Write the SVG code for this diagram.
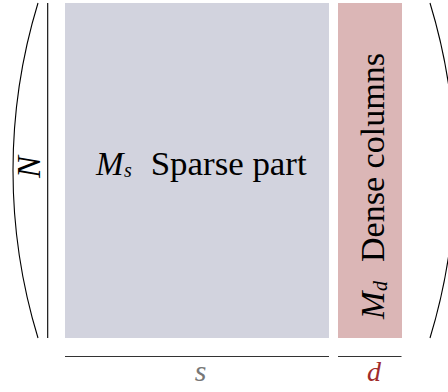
<svg xmlns="http://www.w3.org/2000/svg" width="448" height="392" viewBox="0 0 448 392">
<style>
text{font-family:'Liberation Serif','DejaVu Serif','Noto Serif','Nimbus Roman','FreeSerif',Georgia,'Times New Roman',serif}
.i{font-style:italic}
.ln{stroke:#000;stroke-width:1.1;fill:none}
.dim{stroke:#333;stroke-width:1.1}
</style>
<rect width="448" height="392" fill="#fff"/>
<g id="sparse">
<rect x="65" y="3" width="264" height="335" fill="#d2d3de"/>
<text y="175" font-size="33"><tspan class="i" x="96">M</tspan><tspan class="i" x="124" y="177" font-size="20">s</tspan><tspan x="150.7" y="175" textLength="156" lengthAdjust="spacingAndGlyphs">Sparse part</tspan></text>
</g>
<g id="dense">
<rect x="338" y="3" width="64" height="335" fill="#dbb6b6"/>
<g transform="translate(384,319) rotate(-90)">
<text y="0" font-size="33"><tspan class="i" x="0">M</tspan><tspan class="i" x="28" y="3" font-size="20">d</tspan><tspan x="57" y="0" textLength="209" lengthAdjust="spacingAndGlyphs">Dense columns</tspan></text>
</g>
</g>
<g id="rows">
<line class="ln" x1="47.7" y1="3" x2="47.7" y2="338"/>
<path class="ln" d="M38,3 A573.6,573.6 0 0 0 38,338"/>
<path class="ln" d="M430,3 A573.6,573.6 0 0 1 430,338"/>
<text class="i" transform="translate(40,167) rotate(-90)" text-anchor="middle" font-size="33">N</text>
</g>
<g id="dims">
<line class="dim" x1="65" y1="356.5" x2="329" y2="356.5"/>
<line class="dim" x1="338" y1="356.5" x2="401.5" y2="356.5"/>
<text class="i" x="200.5" y="381" text-anchor="middle" font-size="30" fill="#777">s</text>
<text class="i" x="374" y="381" text-anchor="middle" font-size="28" fill="#a02c2c">d</text>
</g>
</svg>
